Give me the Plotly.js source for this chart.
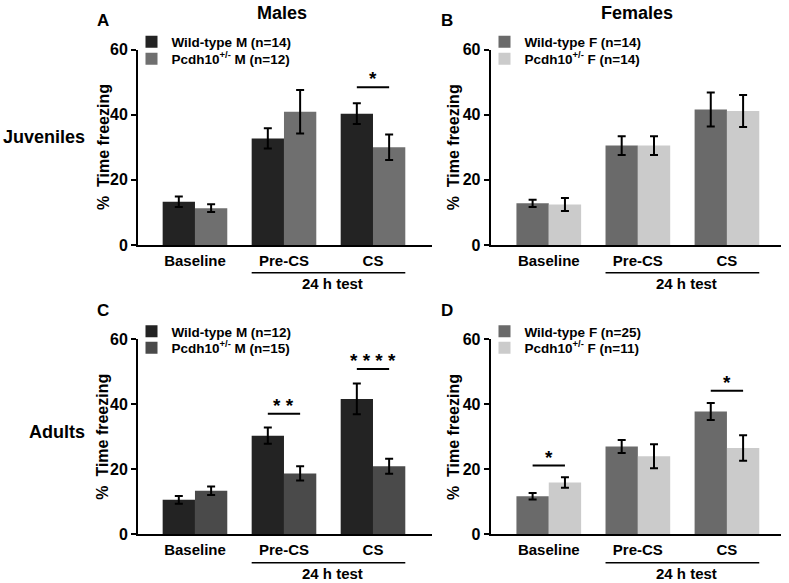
<!DOCTYPE html>
<html>
<head>
<meta charset="utf-8">
<script src="https://cdn.plot.ly/plotly-3.0.1.min.js"></script>
<style>html,body{margin:0;padding:0;background:#fff;}#chart{width:789px;height:583px;}</style>
</head>
<body>
<div id="chart"></div>
<script>
// ---------- data ----------
const categories = ['Baseline', 'Pre-CS', 'CS'];
const yTicks = [0, 20, 40, 60];

// A: Juvenile males
const juvMaleWT = [13.3, 32.7, 40.3];
const juvMaleWTErr = [1.6, 3.1, 3.2];
const juvMaleKO = [11.3, 40.9, 30.0];
const juvMaleKOErr = [1.2, 6.7, 3.9];
// B: Juvenile females
const juvFemWT = [12.8, 30.5, 41.6];
const juvFemWTErr = [1.1, 2.9, 5.2];
const juvFemKO = [12.4, 30.5, 41.1];
const juvFemKOErr = [2.0, 2.9, 4.9];
// C: Adult males
const adMaleWT = [10.6, 30.3, 41.6];
const adMaleWTErr = [1.2, 2.5, 4.7];
const adMaleKO = [13.4, 18.7, 20.9];
const adMaleKOErr = [1.3, 2.2, 2.3];
// D: Adult females
const adFemWT = [11.7, 27.0, 37.7];
const adFemWTErr = [1.0, 2.0, 2.6];
const adFemKO = [15.9, 24.0, 26.5];
const adFemKOErr = [1.6, 3.7, 3.9];

const legendNames = [
  ['Wild-type M (n=14)', 'Pcdh10<sup>+/-</sup> M (n=12)'],
  ['Wild-type F (n=14)', 'Pcdh10<sup>+/-</sup> F (n=14)'],
  ['Wild-type M (n=12)', 'Pcdh10<sup>+/-</sup> M (n=15)'],
  ['Wild-type F (n=25)', 'Pcdh10<sup>+/-</sup> F (n=11)']
];

// significance: panel index, category index, bracket height (% units), label
const sigPanel = [0, 2, 2, 3, 3];
const sigCat = [2, 1, 2, 0, 2];
const sigY = [48.4, 37.0, 50.8, 21.1, 44.1];
const sigLabel = ['*', '* *', '* * * *', '*', '*'];

const panelLetters = ['A', 'B', 'C', 'D'];
const colTitles = ['Males', 'Females'];
const rowTitles = ['Juveniles', 'Adults'];
const yTitle = '%  Time freezing';
const groupLabel = '24 h test';

// ---------- styling ----------
const FONT = 'Arial, "Liberation Sans", Helvetica, sans-serif';
const W = 789, H = 583;
const colors = [
  ['#232323', '#6f6f6f'],
  ['#6a6a6a', '#cbcbcb'],
  ['#232323', '#4a4a4a'],
  ['#6a6a6a', '#cbcbcb']
];
const xDomains = [[138 / W, 432 / W], [490.7 / W, 781 / W], [138 / W, 432 / W], [490.7 / W, 781 / W]];
const yDomains = [[1 - 245 / H, 1 - 49.5 / H], [1 - 245 / H, 1 - 49.5 / H], [1 - 534.3 / H, 1 - 339 / H], [1 - 534.3 / H, 1 - 339 / H]];
const xRanges = [[-0.64, 2.663], [-0.652, 2.607], [-0.64, 2.663], [-0.652, 2.607]];
const bargap = 0.274;
const halfOff = (1 - bargap) / 4;

const seriesWT = [juvMaleWT, juvFemWT, adMaleWT, adFemWT];
const seriesWTErr = [juvMaleWTErr, juvFemWTErr, adMaleWTErr, adFemWTErr];
const seriesKO = [juvMaleKO, juvFemKO, adMaleKO, adFemKO];
const seriesKOErr = [juvMaleKOErr, juvFemKOErr, adMaleKOErr, adFemKOErr];

const traces = [];
const layout = {
  width: W, height: H,
  margin: {l: 0, r: 0, t: 0, b: 0},
  paper_bgcolor: '#fff', plot_bgcolor: '#fff',
  showlegend: true,
  barmode: 'group', bargap: bargap, bargroupgap: 0,
  font: {family: FONT, color: '#000', weight: 'bold'},
  shapes: [], annotations: []
};

// legend placement (one legend per entry so that the rows sit tight)
const legendLeft = [131.5, 484.5, 131.5, 484.5];
const legendTop = [[26.5, 43.5], [26.5, 43.5], [316, 332.5], [316, 332.5]];
const yTitleX = [103, 453.3, 103, 453.3];
const yTitleY = [147, 147, 436.7, 436.7];

let legendCount = 0;
for (let p = 0; p < 4; p++) {
  const sfx = p === 0 ? '' : String(p + 1);
  const xa = 'x' + sfx, ya = 'y' + sfx;
  [[seriesWT[p], seriesWTErr[p]], [seriesKO[p], seriesKOErr[p]]].forEach((s, k) => {
    legendCount++;
    const lg = 'legend' + (legendCount === 1 ? '' : legendCount);
    traces.push({
      type: 'bar', x: categories, y: s[0],
      name: legendNames[p][k], showlegend: true,
      xaxis: xa, yaxis: ya, legend: lg,
      marker: {color: colors[p][k]},
      error_y: {type: 'data', array: s[1], visible: true, color: '#000', thickness: 2, width: 4},
      hoverinfo: 'skip'
    });
    layout[lg] = {
      visible: true,
      x: legendLeft[p] / W, y: 1 - legendTop[p][k] / H, xanchor: 'left', yanchor: 'top',
      bgcolor: 'rgba(0,0,0,0)',
      font: {family: FONT, size: 13.5, weight: 'bold', color: '#000'}
    };
  });
  layout['xaxis' + sfx] = {
    domain: xDomains[p], anchor: ya, type: 'category', range: xRanges[p],
    showline: true, linecolor: '#000', linewidth: 2, ticks: '', showgrid: false, zeroline: false,
    tickfont: {family: FONT, size: 15, weight: 'bold', color: '#000'},
    ticklabelstandoff: 1, fixedrange: true
  };
  layout['yaxis' + sfx] = {
    domain: yDomains[p], anchor: xa, range: [0, 60], tickvals: yTicks,
    showline: true, linecolor: '#000', linewidth: 2, ticks: 'outside', ticklen: 5, tickwidth: 2, tickcolor: '#000',
    showgrid: false, zeroline: false,
    tickfont: {family: FONT, size: 16, weight: 'bold', color: '#000'},
    fixedrange: true
  };
  // y axis title
  layout.annotations.push({
    xref: 'paper', yref: 'paper', x: yTitleX[p] / W, y: 1 - yTitleY[p] / H, text: yTitle, showarrow: false,
    textangle: -90, xanchor: 'center', yanchor: 'middle',
    font: {family: FONT, size: 16, weight: 'bold', color: '#000'}
  });
  // "24 h test" bracket under Pre-CS and CS
  const brY = p < 2 ? 1 - 272.7 / H : 1 - 562.7 / H;
  const brTextY = p < 2 ? 1 - 283.3 / H : 1 - 573.3 / H;
  layout.shapes.push({
    type: 'line', xref: xa, yref: 'paper',
    x0: 1 - 2 * halfOff, x1: 2 + 2 * halfOff, y0: brY, y1: brY,
    line: {color: '#000', width: 1.5}
  });
  layout.annotations.push({
    xref: xa, yref: 'paper', x: 1.55, y: brTextY, text: groupLabel, showarrow: false,
    xanchor: 'center', yanchor: 'middle',
    font: {family: FONT, size: 15, weight: 'bold', color: '#000'}
  });
  // panel letter
  const letX = (p % 2 === 0) ? 103 / W : 446.5 / W;
  const letY = p < 2 ? 1 - 20.5 / H : 1 - 310.5 / H;
  layout.annotations.push({
    xref: 'paper', yref: 'paper', x: letX, y: letY, text: panelLetters[p], showarrow: false,
    xanchor: 'center', yanchor: 'middle',
    font: {family: FONT, size: 17, weight: 'bold', color: '#000'}
  });
}

// significance brackets
for (let i = 0; i < sigPanel.length; i++) {
  const p = sigPanel[i];
  const sfx = p === 0 ? '' : String(p + 1);
  const c = sigCat[i];
  layout.shapes.push({
    type: 'line', xref: 'x' + sfx, yref: 'y' + sfx,
    x0: c - halfOff, x1: c + halfOff, y0: sigY[i], y1: sigY[i],
    line: {color: '#000', width: 2}
  });
  layout.annotations.push({
    xref: 'x' + sfx, yref: 'y' + sfx, x: c, y: sigY[i], text: sigLabel[i], showarrow: false,
    xanchor: 'center', yanchor: 'bottom', yshift: -4,
    font: {family: FONT, size: 19, weight: 'bold', color: '#000'}
  });
}

// column titles
const colX = [281.7 / W, 636.7 / W];
colTitles.forEach((t, i) => layout.annotations.push({
  xref: 'paper', yref: 'paper', x: colX[i], y: 1 - 13 / H, text: t, showarrow: false,
  xanchor: 'center', yanchor: 'middle',
  font: {family: FONT, size: 18, weight: 'bold', color: '#000'}
}));
// row titles
const rowY = [1 - 136.7 / H, 1 - 431.7 / H];
rowTitles.forEach((t, i) => layout.annotations.push({
  xref: 'paper', yref: 'paper', x: 87 / W, y: rowY[i], text: t, showarrow: false,
  xanchor: 'right', yanchor: 'middle',
  font: {family: FONT, size: 18, weight: 'bold', color: '#000'}
}));

Plotly.newPlot('chart', traces, layout, {displayModeBar: false, staticPlot: true});
</script>
</body>
</html>
